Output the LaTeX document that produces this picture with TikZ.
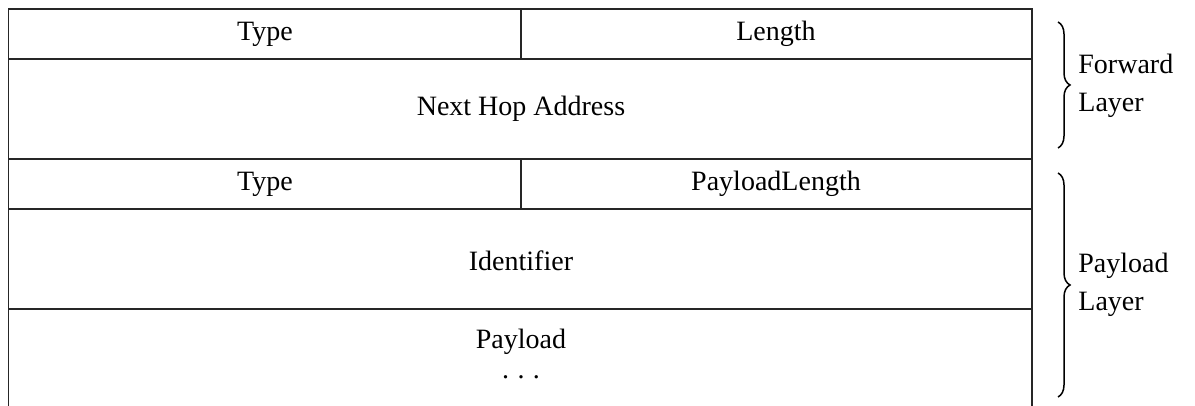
\documentclass[tikz,border=0pt]{standalone}
\usepackage{fontspec}
\setmainfont{Liberation Serif}
\usetikzlibrary{decorations.pathreplacing}
\begin{document}
\begin{tikzpicture}[x=0.5pt,y=-0.5pt,
  grid/.style={draw=black!85,line width=0.6pt},
  lbl/.style={font=\fontsize{14}{19}\selectfont,inner sep=0pt},
  side/.style={font=\fontsize{14}{19}\selectfont,inner sep=0pt,anchor=west,align=left},
  br/.style={draw=black,line width=0.75pt,decorate,decoration={brace,amplitude=6pt}}]
\useasboundingbox (0,0) rectangle (1195,406);
% grid
\draw[grid] (8.5,406) -- (8.5,9) -- (1032,9) -- (1032,406);
\draw[grid] (8.5,59) -- (1032,59);
\draw[grid] (8.5,159) -- (1032,159);
\draw[grid] (8.5,209) -- (1032,209);
\draw[grid] (8.5,309) -- (1032,309);
\draw[grid] (521,9) -- (521,59);
\draw[grid] (521,159) -- (521,209);
% labels
\node[lbl] (t1) at (265,34) {Type};
\node[lbl] (len) at (776,34) {Length};
\node[lbl] (nha) at (521,109) {Next Hop Address};
\node[lbl] (t2) at (265,184) {Type};
\node[lbl] (pl) at (776,184) {PayloadLength};
\node[lbl] (id) at (521,261) {Identifier};
\node[lbl] (pay) at (521,342) {Payload};
\node[lbl] (dots) at (521,377) {.\hspace{0.3em}.\hspace{0.3em}.};
% braces
\coordinate (b1a) at (1058,22);
\coordinate (b1b) at (1058,148);
\coordinate (b2a) at (1058,173);
\coordinate (b2b) at (1058,397);
\draw[br] (b1a) -- (b1b);
\draw[br] (b2a) -- (b2b);
\node[side] (fl) at (1078,86) {Forward\\Layer};
\node[side] (plr) at (1078,285) {Payload\\Layer};
\end{tikzpicture}
\end{document}
